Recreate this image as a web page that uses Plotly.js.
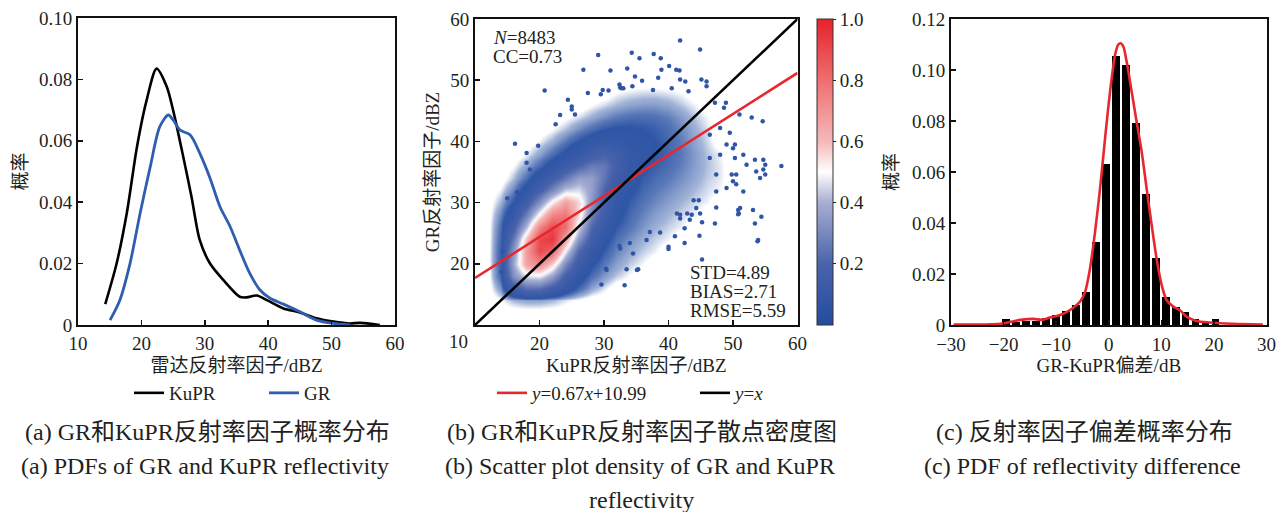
<!DOCTYPE html>
<html><head><meta charset="utf-8">
<script src="https://cdn.plot.ly/plotly-3.0.1.min.js"></script>
<style>html,body{margin:0;padding:0;background:#fff;} #chart{width:1278px;height:512px;}</style>
</head><body><div id="chart"></div>
<script>
const W = 1278, H = 512;
const FONT = "'Liberation Serif', 'Noto Sans CJK SC', serif";
const INK = '#231f20';

// ---------- Panel (a): PDFs ----------
const kuprX = [14.3,16.1,17.7,19.3,20.8,22.4,24.0,25.0,26.6,27.9,29.2,30.8,32.9,35.5,36.6,38.2,39.8,42.4,45.0,47.6,50.3,52.9,54.5,57.6];
const kuprY = [0.0068,0.0201,0.0365,0.058,0.073,0.0835,0.0776,0.070,0.0548,0.0418,0.0277,0.0201,0.0147,0.0092,0.009,0.0096,0.0081,0.0054,0.0041,0.0022,0.0011,0.0005,0.0007,0.0];
const grX = [15.05,16.6,18.2,19.8,21.4,22.9,24.25,25.0,26.1,27.7,29.2,30.8,32.4,34.0,35.5,37.1,38.7,40.3,42.4,45.0,47.6,50.3,52.9];
const grY = [0.0016,0.0081,0.020,0.0364,0.0516,0.0646,0.0684,0.0668,0.0635,0.0619,0.056,0.048,0.0385,0.032,0.0244,0.0168,0.0114,0.0087,0.0068,0.0043,0.0016,0.0005,0.0];
const aXTicks = [10,20,30,40,50,60];
const aYTicks = [0,0.02,0.04,0.06,0.08,0.10];
const aYLabels = ['0','0.02','0.04','0.06','0.08','0.10'];

// ---------- Panel (b): scatter density ----------
const gridX = [12,14,16,18,20,22,24,26,28,30,32,34,36,38,40,42,44,46,48,50,52,54,56,58];
const gridY = [12,14,16,18,20,22,24,26,28,30,32,34,36,38,40,42,44,46,48,50,52,54,56,58];
const density = [
 [0,0,0,0,0,0,0,0,0,0,0,0,0,0,0,0,0,0,0,0,0,0,0,0],
 [0,.008,.02,.025,.025,.02,.012,.006,0,0,0,0,0,0,0,0,0,0,0,0,0,0,0,0],
 [0,.03,.15,.24,.24,.16,.09,.05,.025,.012,0,0,0,0,0,0,0,0,0,0,0,0,0,0],
 [0,.05,.32,.46,.48,.36,.17,.08,.045,.028,.016,.008,0,0,0,0,0,0,0,0,0,0,0,0],
 [0,.055,.38,.66,.72,.56,.30,.13,.065,.04,.026,.016,.009,0,0,0,0,0,0,0,0,0,0,0],
 [0,.055,.34,.68,.90,.82,.48,.21,.095,.055,.036,.024,.016,.01,0,0,0,0,0,0,0,0,0,0],
 [0,.05,.26,.60,.90,.95,.66,.34,.15,.07,.045,.032,.022,.015,.01,0,0,0,0,0,0,0,0,0],
 [0,.045,.17,.42,.74,.90,.80,.46,.21,.10,.058,.042,.03,.021,.015,.01,0,0,0,0,0,0,0,0],
 [0,.035,.10,.28,.52,.74,.78,.55,.28,.13,.07,.048,.036,.027,.02,.014,.01,0,0,0,0,0,0,0],
 [0,.02,.06,.15,.32,.52,.66,.56,.34,.17,.085,.056,.043,.034,.027,.02,.014,.01,0,0,0,0,0,0],
 [0,.01,.035,.08,.17,.30,.44,.46,.36,.20,.10,.066,.05,.04,.033,.026,.019,.013,.009,0,0,0,0,0],
 [0,0,.018,.045,.09,.16,.26,.36,.36,.25,.13,.078,.057,.047,.04,.032,.024,.016,.011,0,0,0,0,0],
 [0,0,.008,.025,.048,.08,.13,.20,.27,.26,.16,.095,.066,.054,.046,.037,.027,.018,.011,0,0,0,0,0],
 [0,0,0,.01,.025,.045,.07,.10,.15,.19,.15,.10,.073,.06,.05,.04,.028,.017,.01,0,0,0,0,0],
 [0,0,0,0,.01,.022,.04,.06,.08,.10,.095,.08,.068,.06,.05,.038,.025,.014,0,0,0,0,0,0],
 [0,0,0,0,0,.008,.018,.032,.046,.058,.064,.064,.06,.054,.046,.034,.022,.012,0,0,0,0,0,0],
 [0,0,0,0,0,0,.006,.013,.022,.032,.04,.045,.046,.044,.038,.028,.017,.009,0,0,0,0,0,0],
 [0,0,0,0,0,0,0,0,.008,.014,.02,.025,.028,.028,.024,.017,.01,0,0,0,0,0,0,0],
 [0,0,0,0,0,0,0,0,0,0,.008,.011,.013,.013,.011,.008,0,0,0,0,0,0,0,0],
 [0,0,0,0,0,0,0,0,0,0,0,0,0,0,0,0,0,0,0,0,0,0,0,0],
 [0,0,0,0,0,0,0,0,0,0,0,0,0,0,0,0,0,0,0,0,0,0,0,0],
 [0,0,0,0,0,0,0,0,0,0,0,0,0,0,0,0,0,0,0,0,0,0,0,0],
 [0,0,0,0,0,0,0,0,0,0,0,0,0,0,0,0,0,0,0,0,0,0,0,0],
 [0,0,0,0,0,0,0,0,0,0,0,0,0,0,0,0,0,0,0,0,0,0,0,0]
];
// isolated points
const outX = [29.1,26.8,31.0,20.8,27.5,29.8,30.7,29.5,32.4,32.7,24.4,25.0,25.0,23.2,22.5,25.5,16.2,19.8,
 41.8,44.9,34.3,37.7,35.5,38.8,33.6,40.1,41.2,41.7,38.9,34.8,35.9,38.4,41.8,42.6,45.1,45.9,45.9,32.5,33.0,34.4,37.6,40.5,43.1,
 47.2,48.9,48.6,51.0,52.9,54.6,49.5,50.3,51.6,53.4,54.7,55.0,54.7,55.0,54.2,53.6,57.5,52.1,50.0,50.5,50.8,53.1,
 46.4,48.0,49.0,50.0,48.0,46.4,50.3,49.8,47.4,49.0,47.4,50.5,51.6,44.3,
 53.4,53.9,54.4,51.1,50.9,47.2,47.4,45.2,44.9,44.7,44.8,45.2,41.0,40.0,38.7,37.1,35.3,33.5,33.2,29.6,30.3,32.4,34.0,36.6,41.3,41.8,42.9,43.9,
 50.8,53.8,40.0,34.5,30.4,35.1,32.5,42.5,42.5,43.3,43.6,41.8,
 15.0,18.0,18.5,16.5,15.3,18.0,14.3,14.1];
const outY = [54.1,51.7,51.6,48.3,47.9,48.4,48.3,47.7,49.3,48.7,46.8,45.7,45.2,44.3,42.8,44.4,39.6,39.3,
 56.5,55.0,54.5,54.3,53.6,53.6,51.9,52.3,51.7,51.6,51.7,50.6,49.9,50.4,50.1,49.8,50.1,49.8,49.0,48.8,48.7,49.0,48.4,48.7,48.2,
 46.3,46.3,45.5,44.4,43.9,43.3,41.4,39.5,37.8,37.0,37.0,36.2,35.4,34.6,34.0,35.1,36.0,36.2,33.5,34.6,28.8,28.8,
 41.1,42.2,39.5,38.9,37.8,37.3,37.3,34.6,34.6,32.4,31.8,33.0,31.8,29.1,
 26.6,23.9,27.7,29.1,28.2,26.6,29.2,26.8,28.2,30.4,24.6,20.7,24.5,22.8,25.1,25.2,19.1,19.1,16.5,16.6,19.2,22.9,23.4,23.9,28.2,27.4,28.2,30.4,
 28.1,23.7,22.4,21.7,19.0,19.0,22.5,25.8,23.4,27.2,28.0,28.0,
 30.7,36.5,35.4,31.7,28.4,38.1,22.0,18.7];
const fitSlope = 0.67, fitIntercept = 10.99;
const lineEnds = [10, 60];
const bTicks = [20,30,40,50,60];
const cbTicks = [0.2,0.4,0.6,0.8,1.0];
const cbLabels = ['0.2','0.4','0.6','0.8','1.0'];

// ---------- Panel (c): bias PDF ----------
const binCenters = [-19.57,-17.67,-15.77,-13.87,-11.97,-10.07,-8.17,-6.27,-4.37,-2.47,-0.57,1.33,3.23,5.13,7.03,8.93,10.83,12.73,14.63,16.53,18.43,20.33];
const binProb = [0.0022,0.0012,0.0015,0.0017,0.0026,0.0039,0.0053,0.008,0.013,0.0324,0.0631,0.1055,0.102,0.0793,0.0512,0.0261,0.0111,0.007,0.005,0.0022,0.0012,0.0022];
const kdeX = [-29.5,-20.6,-16.8,-14.3,-12.7,-11.2,-9.25,-7.35,-5.45,-4.5,-3.56,-2.6,-1.65,-0.7,0.25,1.2,1.82,2.27,2.77,3.4,4.36,5.3,6.26,7.2,8.16,9.1,10.06,11.0,12.27,13.5,14.8,16.7,19.2,23.65,29.3];
const kdeY = [0.0002,0.0005,0.002,0.0024,0.002,0.0029,0.0039,0.0059,0.0092,0.013,0.0222,0.0366,0.0536,0.0732,0.0915,0.1059,0.110,0.1105,0.1092,0.1033,0.0915,0.0797,0.068,0.0536,0.0392,0.026,0.0157,0.0098,0.0072,0.0059,0.0033,0.0016,0.001,0.0005,0.0002];
const cXTicks = [-30,-20,-10,0,10,20,30];
const cYTicks = [0,0.02,0.04,0.06,0.08,0.10,0.12];
const cYLabels = ['0','0.02','0.04','0.06','0.08','0.10','0.12'];

// ---------- helpers ----------
const px = x => x / W;
const py = y => 1 - y / H;
const BLUE_DOT = '#2f56a6';
const cbScale = [[0,'#234c9f'],[0.2,'#4a63ab'],[0.4,'#a7aed3'],[0.5,'#ffffff'],[0.6,'#f5b8b9'],[0.8,'#ee6e70'],[1,'#e5232a']];
const heatScale = [[0,'rgba(47,86,166,0)'],[0.008,'rgba(47,86,166,0)'],[0.02,'rgba(47,86,166,0.45)'],[0.04,'rgba(47,86,166,0.8)'],[0.06,'rgba(47,86,166,1)'],
  [0.2,'rgb(74,99,171)'],[0.4,'rgb(167,174,211)'],[0.5,'rgb(255,255,255)'],[0.6,'rgb(245,184,185)'],[0.8,'rgb(238,110,112)'],[1,'rgb(229,35,42)']];

const traces = [
  {x: kuprX, y: kuprY, xaxis:'x', yaxis:'y', type:'scatter', mode:'lines', name:'KuPR',
   line:{color:'#000', width:2.6, shape:'spline', smoothing:0.8}, legend:'legend', hoverinfo:'skip'},
  {x: grX, y: grY, xaxis:'x', yaxis:'y', type:'scatter', mode:'lines', name:'GR',
   line:{color:'#2f5db0', width:2.8, shape:'spline', smoothing:0.8}, legend:'legend', hoverinfo:'skip'},

  {x: gridX, y: gridY, z: density, type:'heatmap', xaxis:'x2', yaxis:'y2', zsmooth:'best',
   colorscale: heatScale, zmin:0, zmax:1, showscale:false, hoverinfo:'skip', showlegend:false},
  {x: outX, y: outY, xaxis:'x2', yaxis:'y2', type:'scatter', mode:'markers', showlegend:false,
   marker:{color:BLUE_DOT, size:4.5}, hoverinfo:'skip'},
  {x: lineEnds, y: lineEnds.map(v => fitSlope*v + fitIntercept), xaxis:'x2', yaxis:'y2', type:'scatter', mode:'lines',
   name:'<i>y</i>=0.67<i>x</i>+10.99', line:{color:'#e8262d', width:2.6}, legend:'legend2', hoverinfo:'skip'},
  {x: lineEnds, y: lineEnds, xaxis:'x2', yaxis:'y2', type:'scatter', mode:'lines',
   name:'<i>y</i>=<i>x</i>', line:{color:'#000', width:2.6}, legend:'legend2', hoverinfo:'skip'},
  {x: [-100,-100], y: [-100,-100], xaxis:'x2', yaxis:'y2', type:'scatter', mode:'markers', showlegend:false, hoverinfo:'skip',
   marker:{color:[0,1], cmin:0, cmax:1, colorscale: cbScale, showscale:true, size:1,
     colorbar:{x: px(817), xanchor:'left', y: py(172), yanchor:'middle', len: 306/H, lenmode:'fraction',
       thickness:16, thicknessmode:'pixels', outlinewidth:1, outlinecolor:'#333', xpad:0, ypad:0,
       tickmode:'array', tickvals: cbTicks, ticktext: cbLabels, ticks:'outside', ticklen:3, tickcolor:INK,
       tickfont:{family:FONT, size:19, color:INK}}}},

  {x: binCenters, y: binProb, xaxis:'x3', yaxis:'y3', type:'bar', width:1.45, showlegend:false,
   marker:{color:'#000', line:{width:0}}, hoverinfo:'skip'},
  {x: kdeX, y: kdeY, xaxis:'x3', yaxis:'y3', type:'scatter', mode:'lines', showlegend:false,
   line:{color:'#e8262d', width:2.6, shape:'spline', smoothing:0.8}, hoverinfo:'skip'}
];

function axisBase(extra) {
  return Object.assign({
    showline:true, mirror:true, linewidth:2, linecolor:'#111', showgrid:false, zeroline:false,
    ticks:'inside', ticklen:5, tickwidth:1.6, tickcolor:'#111',
    tickfont:{family:FONT, size:19, color:INK}, tickmode:'array', fixedrange:true
  }, extra);
}
const titleFont = {family:FONT, size:19, color:INK};

const annotations = [
  {text:'<i>N</i>=8483', x:px(491), y:py(37), xanchor:'left', yanchor:'middle'},
  {text:'CC=0.73', x:px(491), y:py(56), xanchor:'left', yanchor:'middle'},
  {text:'STD=4.89', x:px(688), y:py(272), xanchor:'left', yanchor:'middle'},
  {text:'BIAS=2.71', x:px(688), y:py(291), xanchor:'left', yanchor:'middle'},
  {text:'RMSE=5.59', x:px(688), y:py(310), xanchor:'left', yanchor:'middle'},
  {text:'10', x:px(458), y:py(341), xanchor:'center', yanchor:'middle'},
  {text:'(a) GR和KuPR反射率因子概率分布', x:px(207), y:py(432), xanchor:'center', yanchor:'middle', size:24},
  {text:'(b) GR和KuPR反射率因子散点密度图', x:px(642), y:py(432), xanchor:'center', yanchor:'middle', size:24},
  {text:'(c) 反射率因子偏差概率分布', x:px(1084), y:py(432), xanchor:'center', yanchor:'middle', size:24},
  {text:'(a) PDFs of GR and KuPR reflectivity', x:px(205), y:py(466), xanchor:'center', yanchor:'middle', size:24},
  {text:'(b) Scatter plot density of GR and KuPR', x:px(640), y:py(466), xanchor:'center', yanchor:'middle', size:24},
  {text:'(c) PDF of reflectivity difference', x:px(1082), y:py(466), xanchor:'center', yanchor:'middle', size:24},
  {text:'reflectivity', x:px(641), y:py(500), xanchor:'center', yanchor:'middle', size:24}
].map(a => ({text:a.text, x:a.x, y:a.y, xref:'paper', yref:'paper', xanchor:a.xanchor, yanchor:a.yanchor,
  showarrow:false, font:{family:FONT, size:a.size || 19, color:INK}}));

const layout = {
  width:W, height:H, autosize:false, margin:{l:0,r:0,t:0,b:0},
  paper_bgcolor:'#fff', plot_bgcolor:'rgba(0,0,0,0)',
  font:{family:FONT, size:19, color:INK},
  xaxis: axisBase({domain:[px(78), px(395)], anchor:'y', range:[10,60], tickvals:aXTicks,
    title:{text:'雷达反射率因子/dBZ', font:titleFont, standoff:6}}),
  yaxis: axisBase({domain:[py(325), py(18)], anchor:'x', range:[0,0.1], tickvals:aYTicks, ticktext:aYLabels,
    title:{text:'概率', font:titleFont, standoff:6}}),
  xaxis2: axisBase({domain:[px(475), px(797.5)], anchor:'y2', range:[10,60], tickvals:bTicks,
    title:{text:'KuPR反射率因子/dBZ', font:titleFont, standoff:6}}),
  yaxis2: axisBase({domain:[py(325), py(19)], anchor:'x2', range:[10,60], tickvals:bTicks,
    title:{text:'GR反射率因子/dBZ', font:titleFont, standoff:6}}),
  xaxis3: axisBase({domain:[px(951), px(1266.5)], anchor:'y3', range:[-30,30], tickvals:cXTicks, ticklabelstandoff:1,
    title:{text:'GR-KuPR偏差/dB', font:titleFont, standoff:5}}),
  yaxis3: axisBase({domain:[py(325), py(19)], anchor:'x3', range:[0,0.12], tickvals:cYTicks, ticktext:cYLabels,
    title:{text:'概率', font:titleFont, standoff:8}}),
  bargap:0,
  showlegend:true,
  legend:{orientation:'h', x:px(129), y:py(393), xanchor:'left', yanchor:'middle', entrywidth:90,
    bgcolor:'rgba(0,0,0,0)', font:{family:FONT, size:19, color:INK}, itemclick:false, itemdoubleclick:false},
  legend2:{orientation:'h', x:px(492), y:py(393), xanchor:'left', yanchor:'middle', entrywidth:158,
    bgcolor:'rgba(0,0,0,0)', font:{family:FONT, size:19, color:INK}, itemclick:false, itemdoubleclick:false},
  annotations: annotations
};

Plotly.newPlot('chart', traces, layout, {displayModeBar:false, staticPlot:true});
</script>
</body></html>
